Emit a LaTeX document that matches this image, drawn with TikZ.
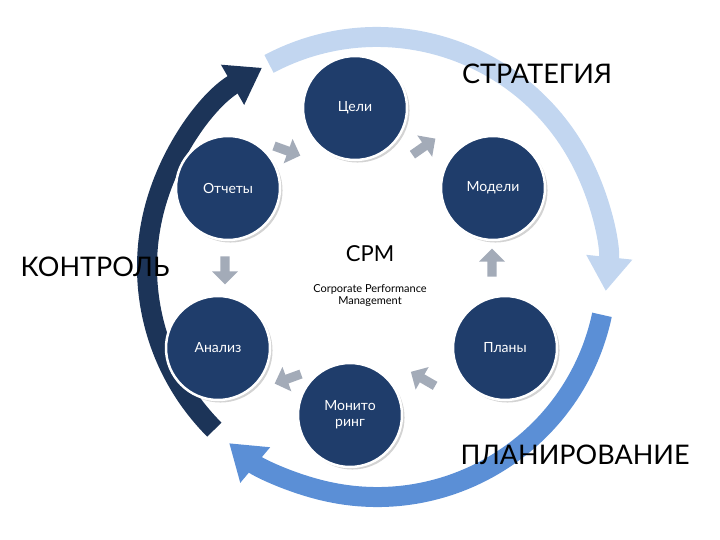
\documentclass[tikz,border=0pt]{standalone}
\usepackage{fontspec}
\setmainfont{Lato}
\usetikzlibrary{arrows.meta,shapes.arrows,shadows,calc}
\definecolor{navy}{HTML}{1F3D6B}
\definecolor{midblue}{HTML}{5B8FD6}
\definecolor{lightblue}{HTML}{C2D6F0}
\definecolor{darkarc}{HTML}{1C3458}
\definecolor{grayarr}{HTML}{A3ABB8}
\tikzset{
  stage/.style={circle,draw=white,line width=2.5pt,fill=navy,minimum size=104pt,
    text=white,font=\fontsize{14}{16}\selectfont,align=center,drop shadow={opacity=.35}},
  link/.style={single arrow,fill=grayarr,minimum height=28pt,minimum width=26pt,
    single arrow head extend=4pt,inner sep=2pt},
  phase/.style={font=\fontsize{27}{30}\selectfont},
  ring/.style={line width=20pt,-{Triangle[width=44pt,length=34pt]}}
}
\begin{document}
\begin{tikzpicture}[x=1pt,y=-1pt]
\useasboundingbox (0,0) rectangle (720,540);
\coordinate (c) at (377,267);
% outer cycle
\draw[ring,lightblue] ($(c)+(-118:230)$) arc (-118:6:230);
\draw[ring,midblue] ($(c)+(12:230)$) arc (12:130:230);
\draw[ring,darkarc] ($(c)+(135:230)$) arc (135:240:230);
\node[phase] (strat) at (537,74) {СТРАТЕГИЯ};
\node[phase] (plan) at (575,455) {ПЛАНИРОВАНИЕ};
\node[phase] (ctrl) at (95,267) {КОНТРОЛЬ};
% stages
\node[stage] (goals) at (355,108) {Цели};
\node[stage] (models) at (493,188) {Модели};
\node[stage] (plans) at (505,348) {Планы};
\node[stage] (monit) at (350,415) {Монито\\ринг};
\node[stage] (anal) at (218,348) {Анализ};
\node[stage] (reps) at (228,188) {Отчеты};
\node[link,rotate=-20] (a1) at (285,150) {};
\node[link,rotate=35] (a2) at (422,148) {};
\node[link,rotate=90] (a3) at (492,265) {};
\node[link,rotate=150] (a4) at (425,380) {};
\node[link,rotate=200] (a5) at (290,378) {};
\node[link,rotate=-90] (a6) at (225,268) {};
% centre
\node[font=\fontsize{22}{24}\selectfont] (cpm) at (370,254) {CPM};
\node[font=\fontsize{11}{12}\selectfont,align=center] (full) at (370,296) {Corporate Performance\\Management};
\end{tikzpicture}
\end{document}
